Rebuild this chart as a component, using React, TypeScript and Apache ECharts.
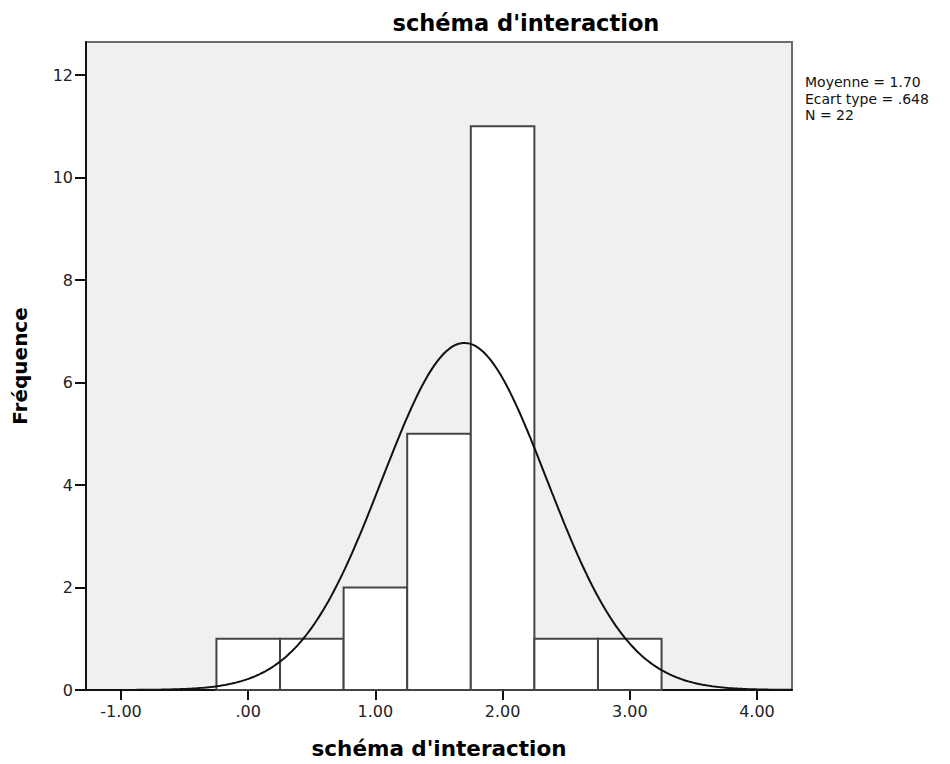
import React, { useEffect, useRef } from "react";
import * as echarts from "echarts";

const binStarts = [-0.25, 0.25, 0.75, 1.25, 1.75, 2.25, 2.75];
const binWidth = 0.5;
const frequencies = [1, 1, 2, 5, 11, 1, 1];
const xTicks = [-1, 0, 1, 2, 3, 4];
const yTicks = [0, 2, 4, 6, 8, 10, 12];
const MEAN = 1.7;
const SD = 0.648;
const N = 22;
const statsLines = ["Moyenne = 1.70", "Ecart type = .648", "N = 22"];
const titleText = "schéma d'interaction";
const xTitle = "schéma d'interaction";
const yTitle = "Fréquence";

const X_MIN = -1.2756;
const X_MAX = 4.2756;
const Y_MAX = 12.644;

function fmtX(v: number): string {
  if (v === 0) return ".00";
  return v.toFixed(2);
}

// Fitted normal curve defined by the displayed mean, sd and N
function normalCurve(): number[][] {
  const pts: number[][] = [];
  const steps = 300;
  for (let i = 0; i <= steps; i++) {
    const x = X_MIN + ((X_MAX - X_MIN) * i) / steps;
    const z = (x - MEAN) / SD;
    const y = (N * binWidth) / (SD * Math.sqrt(2 * Math.PI)) * Math.exp(-0.5 * z * z);
    pts.push([x, y]);
  }
  return pts;
}

export default function App() {
  const ref = useRef<HTMLDivElement>(null);
  useEffect(() => {
    if (!ref.current) return;
    const chart = echarts.init(ref.current, null, { renderer: "svg" });
    const barData = binStarts.map((s, i) => [s, s + binWidth, frequencies[i]]);
    chart.setOption({
      animation: false,
      backgroundColor: "#ffffff",
      textStyle: { fontFamily: "DejaVu Sans" },
      title: {
        text: titleText,
        left: 521,
        top: 6,
        textAlign: "center",
        textStyle: { fontFamily: "DejaVu Sans", fontWeight: "bold", fontSize: 22.5, color: "#000" },
      },
      grid: {
        left: 86,
        top: 42,
        width: 706,
        height: 648,
        containLabel: false,
        outerBoundsMode: "none",
        show: true,
        backgroundColor: "#f0f0f0",
        borderColor: "#6b6b6b",
        borderWidth: 2,
      },
      xAxis: {
        type: "value",
        min: X_MIN,
        max: X_MAX,
        splitLine: { show: false },
        axisLine: { show: true, onZero: false, lineStyle: { color: "#111", width: 2 } },
        axisTick: { show: true, length: 10, customValues: xTicks, lineStyle: { color: "#111", width: 2 } },
        axisLabel: {
          customValues: xTicks,
          formatter: (v: number) => fmtX(v),
          fontSize: 16,
          color: "#222",
          margin: 13,
          fontFamily: "DejaVu Sans",
        },
        name: xTitle,
        nameLocation: "middle",
        nameGap: 47,
        nameTextStyle: { fontFamily: "DejaVu Sans", fontWeight: "bold", fontSize: 21.5, color: "#000" },
      },
      yAxis: {
        type: "value",
        min: 0,
        max: Y_MAX,
        splitLine: { show: false },
        axisLine: { show: true, onZero: false, lineStyle: { color: "#111", width: 2 } },
        axisTick: { show: true, length: 11, customValues: yTicks, lineStyle: { color: "#111", width: 2 } },
        axisLabel: {
          customValues: yTicks,
          formatter: (v: number) => String(v),
          fontSize: 16,
          color: "#222",
          margin: 13,
          fontFamily: "DejaVu Sans",
        },
        name: yTitle,
        nameLocation: "middle",
        nameGap: 56,
        nameTextStyle: { fontFamily: "DejaVu Sans", fontWeight: "bold", fontSize: 20, color: "#000" },
      },
      graphic: [
        {
          type: "text",
          left: 805,
          top: 74,
          style: {
            text: statsLines.join("\n"),
            fontFamily: "DejaVu Sans",
            fontSize: 14,
            lineHeight: 16.5,
            fill: "#111",
          },
        },
      ],
      series: [
        {
          type: "custom",
          data: barData,
          z: 2,
          renderItem: (params: any, api: any) => {
            const p0 = api.coord([api.value(0), api.value(2)]);
            const p1 = api.coord([api.value(1), 0]);
            return {
              type: "rect",
              shape: { x: p0[0], y: p0[1], width: p1[0] - p0[0], height: p1[1] - p0[1] },
              style: { fill: "#ffffff", stroke: "#444", lineWidth: 2 },
            };
          },
        },
        {
          type: "line",
          data: normalCurve(),
          z: 3,
          showSymbol: false,
          symbol: "none",
          smooth: false,
          lineStyle: { color: "#111", width: 2 },
        },
      ],
    });
    return () => chart.dispose();
  }, []);
  return <div ref={ref} style={{ width: 950, height: 764, position: "absolute", left: 0, top: 0 }} />;
}
